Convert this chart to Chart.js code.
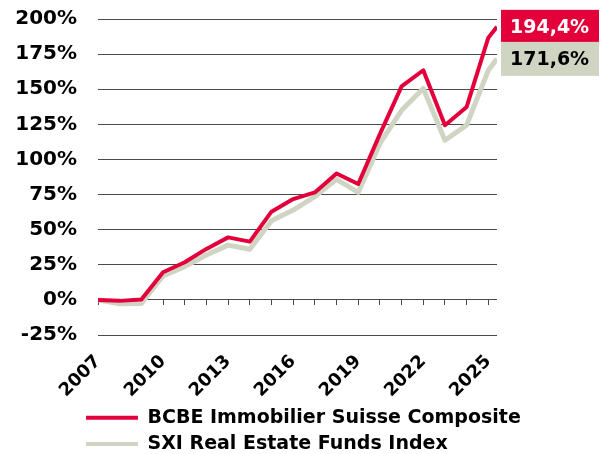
<!DOCTYPE html>
<html><head><meta charset="utf-8">
<style>html,body{margin:0;padding:0;background:#fff}#wrap{width:600px;height:454px;position:relative}</style>
<script src="https://cdn.jsdelivr.net/npm/chart.js@4.4.1/dist/chart.umd.min.js"></script>
</head><body><div id="wrap"><canvas id="c" width="600" height="454"></canvas></div>
<script>
const years = [2007,2008,2009,2010,2011,2012,2013,2014,2015,2016,2017,2018,2019,2020,2021,2022,2023,2024,2025,2025.4];
const bcbe = [0,-0.7,0.3,19.7,26.8,36.3,44.5,41.5,62.8,71.8,76.5,90,82.5,118,152,163.5,124.4,137.4,186.7,194.4];
const sxi = [0,-2.8,-2.6,17,23.7,32,39,36,56.4,64,73.5,85.8,76.5,111.4,135,150.5,113.7,124.4,163.5,171.6];
const seriesNames = ['BCBE Immobilier Suisse Composite','SXI Real Estate Funds Index'];
const xLabelYears = [2007,2010,2013,2016,2019,2022,2025];
const xTickYears = [2007,2008,2009,2010,2011,2012,2013,2014,2015,2016,2017,2018,2019,2020,2021,2022,2023,2024,2025];
const yTickValues = [-25,0,25,50,75,100,125,150,175,200];

const RED = '#E3003A';
const GREY = '#D0D5C3';
const GRID = '#4a4a4a';

Chart.defaults.font.family = '"DejaVu Sans"';
Chart.defaults.font.weight = 'bold';
Chart.defaults.color = '#000';

const toPoints = vals => vals.map((v, i) => ({x: years[i], y: v}));

const valueTags = {
  id: 'valueTags',
  afterDatasetsDraw(chart) {
    const {ctx, chartArea, scales} = chart;
    [0, 1].forEach(i => {
      const ds = chart.data.datasets[i];
      const last = ds.data[ds.data.length - 1].y;
      const cy = scales.y.getPixelForValue(last);
      const x0 = chartArea.right + 4;
      ctx.save();
      ctx.fillStyle = ds.tagColor;
      ctx.fillRect(x0, cy - 17, 98, 34);
      ctx.fillStyle = ds.tagTextColor;
      ctx.font = 'bold 19px "DejaVu Sans"';
      ctx.textBaseline = 'middle';
      ctx.textAlign = 'left';
      ctx.fillText(last.toFixed(1).replace('.', ',') + '%', x0 + 9, cy + 1);
      ctx.restore();
    });
  }
};

const legendPlace = {
  id: 'legendPlace',
  afterLayout(chart) {
    const lg = chart.legend;
    lg.left = 86 - lg.options.labels.padding;
    lg.right = chart.width;
    lg.top = 401;
    lg.bottom = lg.top + 100;
    lg.width = lg.right - lg.left;
    lg.height = lg.bottom - lg.top;
  }
};

new Chart(document.getElementById('c'), {
  type: 'line',
  data: {
    datasets: [
      {label: seriesNames[0], data: toPoints(bcbe), borderColor: RED, backgroundColor: RED,
       borderWidth: 4, pointRadius: 0, tension: 0, borderJoinStyle: 'round', tagColor: RED, tagTextColor: '#fff'},
      {label: seriesNames[1], data: toPoints(sxi), borderColor: GREY, backgroundColor: GREY,
       borderWidth: 5, pointRadius: 0, tension: 0, borderJoinStyle: 'round', tagColor: GREY, tagTextColor: '#000'}
    ]
  },
  options: {
    responsive: false,
    animation: false,
    devicePixelRatio: 1,
    layout: {padding: {top: 19, right: 103, left: 0, bottom: 0}},
    plugins: {
      tooltip: {enabled: false},
      legend: {
        position: 'chartArea',
        align: 'start',
        labels: {
          boxWidth: 52, boxHeight: 4, padding: 7.3,
          font: {size: 19, weight: 'bold', lineHeight: 1.2},
          color: '#000',
          generateLabels: chart => chart.data.datasets.map((ds, i) => ({
            text: ds.label, fillStyle: ds.borderColor, strokeStyle: ds.borderColor,
            lineWidth: 0, hidden: false, datasetIndex: i, fontColor: '#000'
          }))
        }
      }
    },
    scales: {
      x: {
        type: 'linear', min: years[0], max: years[years.length - 1],
        grid: {display: false, drawTicks: false},
        border: {display: false},
        afterBuildTicks: s => { s.ticks = xLabelYears.map(v => ({value: v})); },
        afterFit: s => { s.height = 119; },
        ticks: {
          autoSkip: false, maxRotation: 45, minRotation: 45, padding: 16,
          font: {size: 18, weight: 'bold'}, color: '#000',
          callback: v => String(v)
        }
      },
      x2: {
        type: 'linear', min: years[0], max: years[years.length - 1],
        position: {y: 0},
        grid: {drawOnChartArea: false, drawTicks: true, tickLength: 5, color: GRID, lineWidth: 1},
        border: {display: false},
        afterBuildTicks: s => { s.ticks = xTickYears.map(v => ({value: v})); },
        ticks: {display: false}
      },
      y: {
        type: 'linear', min: -25, max: 200,
        afterBuildTicks: s => { s.ticks = yTickValues.map(v => ({value: v})); },
        afterFit: s => { s.width = 98; },
        grid: {color: GRID, lineWidth: 1, drawTicks: true, tickLength: 21, tickColor: 'rgba(0,0,0,0)'},
        border: {display: false},
        ticks: {padding: 0, font: {size: 20, weight: 'bold'}, color: '#000', callback: v => v + '%'}
      }
    }
  },
  plugins: [valueTags, legendPlace]
});
</script>
</body></html>
